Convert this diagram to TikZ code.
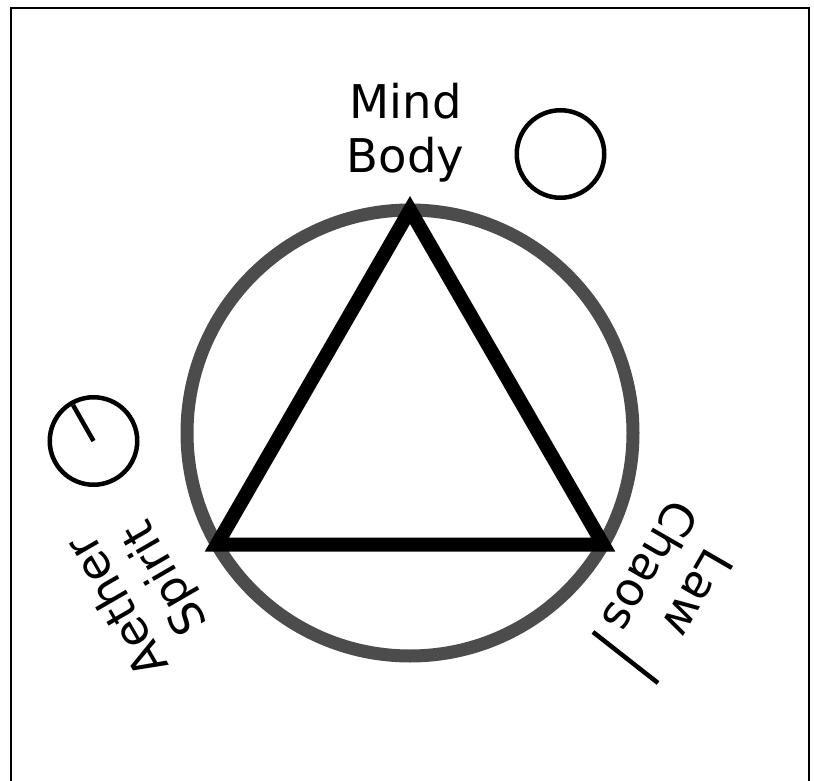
\documentclass[tikz,border=0pt]{standalone}
\usepackage{fontspec}
\setmainfont{DejaVu Sans}
\usetikzlibrary{positioning, calc}

\begin{document}
\begin{tikzpicture}[
    x=1pt, y=-1pt,
    % Styles for the parts
    ring/.style={draw=black!70, circle, line width=13pt, minimum size=446pt, inner sep=0pt},
    trianglepath/.style={draw=black, line width=14pt, line join=miter},
    elemtext/.style={font=\fontsize{46.5}{54.4}\selectfont, align=center, inner sep=0pt},
    symbol/.style={draw=black, circle, line width=4.5pt, minimum size=87.5pt, inner sep=0pt},
    stroke/.style={draw=black, line width=4.5pt}
]

    % Page and frame
    \useasboundingbox (0,0) rectangle (814,781);
    \fill[white] (0,0) rectangle (814,781);
    \draw[line width=2pt] (10.5,781) -- (10.5,8.5) -- (808.5,8.5) -- (808.5,781);

    % Outer circle with the triangle inside
    \node (ring) [ring] at (410,433) {};
    \coordinate (top) at ($(ring.center)+(0,-223)$);
    \coordinate (left) at ($(ring.center)+(-193.1,111.5)$);
    \coordinate (right) at ($(ring.center)+(193.1,111.5)$);
    \draw [trianglepath] (top) -- (left) -- (right) -- cycle;

    % Labels round the circle
    \node (mindbody) [elemtext] at (405.5,132.4) {Mind\\Body};
    \node (lawchaos) [elemtext, rotate=-120] at (674,580) {Law\\Chaos};
    \node (aetherspirit) [elemtext, rotate=120] at (143,591) {Aether\\Spirit};

    % Symbols
    \node (sun) [symbol] at (560.5,154) {};
    \node (clock) [symbol] at (93.5,441) {};
    \coordinate (hand) at (73,405);
    \draw [stroke] (clock.center) -- (hand);
    \coordinate (barA) at (593,632);
    \coordinate (barB) at (658,683);
    \draw [stroke] (barA) -- (barB);

\end{tikzpicture}
\end{document}
